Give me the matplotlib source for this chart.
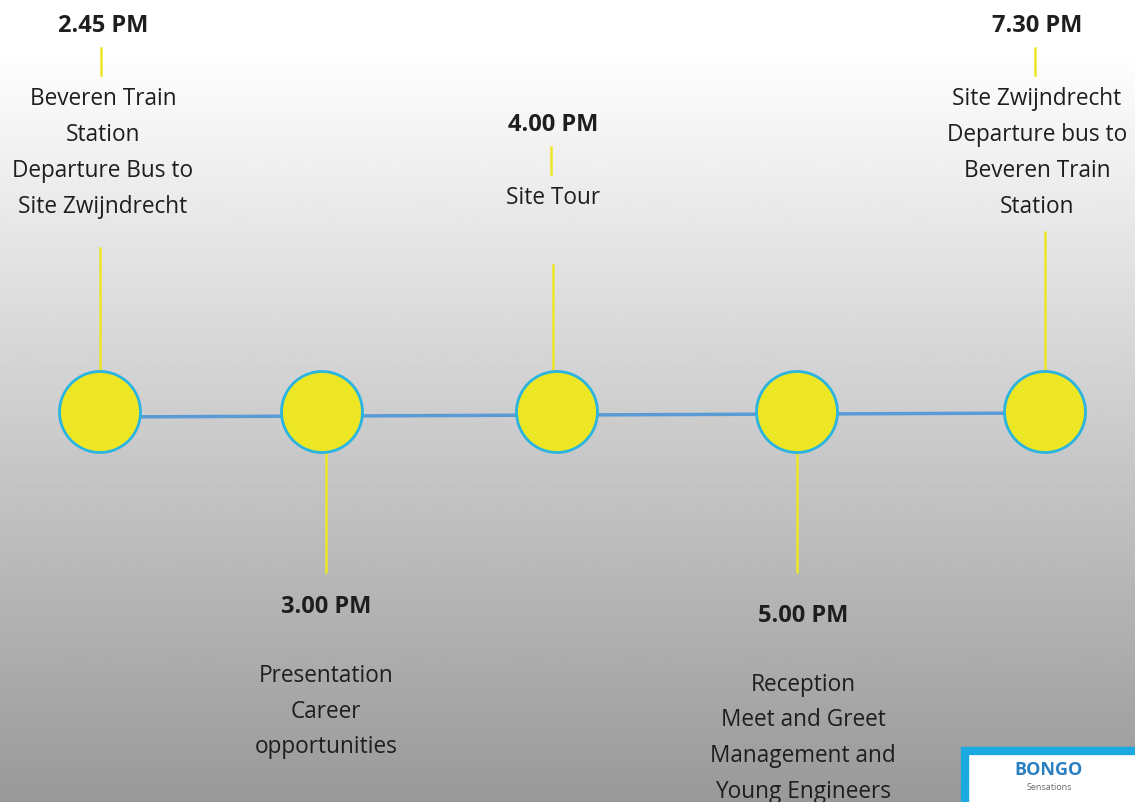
import numpy as np
import matplotlib.pyplot as plt
from matplotlib.patches import Circle, Rectangle

plt.rcParams['font.family'] = ['Open Sans', 'DejaVu Sans']

# timeline stops
times = ['2.45 PM', '3.00 PM', '4.00 PM', '5.00 PM', '7.30 PM']
descs = [
    ['Beveren Train', 'Station', 'Departure Bus to', 'Site Zwijndrecht'],
    ['Presentation', 'Career', 'opportunities'],
    ['Site Tour'],
    ['Reception', 'Meet and Greet', 'Management and', 'Young Engineers'],
    ['Site Zwijndrecht', 'Departure bus to', 'Beveren Train', 'Station'],
]
side = ['up', 'down', 'up', 'down', 'up']
xs = [100, 322, 557, 797, 1045]

W, H = 1135, 802
fig = plt.figure(figsize=(W / 100, H / 100), dpi=100)
ax = fig.add_axes([0, 0, 1, 1])
ax.set_xlim(0, W)
ax.set_ylim(H, 0)
ax.axis('off')

# background gradient: white on top, grey below
g = np.linspace(0, 1, 400)
shade = np.clip((g - 0.06) / 0.94, 0, 1)
col = 1.0 - shade * 0.40
img = np.tile(col[:, None], (1, 10))
ax.imshow(img, cmap='gray', vmin=0, vmax=1, extent=[0, W, H, 0], aspect='auto', zorder=0)

yel = '#EDE625'
txtc = '#1e1e1e'
cy = 412
fs_t = 17
fs_d = 16.3

# connecting line
ax.plot([xs[0], xs[-1]], [417, 413], color='#5B9BD5', lw=2.5, zorder=2)

tx_off = {0: 3, 1: 4, 2: -4, 3: 6, 4: -8}
for i, x in enumerate(xs):
    ax.add_patch(Circle((x, cy), 40.5, facecolor=yel, edgecolor='#2AB4E0', lw=2, zorder=3))
    tx = x + tx_off[i]
    if side[i] == 'up':
        if i == 2:
            ax.plot([x - 4, x - 4], [265, 372], color=yel, lw=1.8, zorder=1)
            ty = 125
        else:
            ax.plot([x, x], [248 if i == 0 else 232, 372], color=yel, lw=1.8, zorder=1)
            ty = 26
        ax.text(tx, ty, times[i], ha='center', va='center', fontsize=fs_t, fontweight='bold', color=txtc)
        ax.plot([tx - 2, tx - 2], [ty + 22, ty + 49], color=yel, lw=1.8, zorder=1)
        y0 = ty + 73
        for k, line in enumerate(descs[i]):
            ax.text(tx, y0 + k * 36, line, ha='center', va='center', fontsize=fs_d, color=txtc)
    else:
        ax.plot([x + 4, x + 4] if i == 1 else [x, x], [452, 572], color=yel, lw=1.8, zorder=1)
        ty = 607 if i == 1 else 616
        ax.text(tx, ty, times[i], ha='center', va='center', fontsize=fs_t, fontweight='bold', color=txtc)
        y0 = ty + 69
        for k, line in enumerate(descs[i]):
            ax.text(tx, y0 + k * 35.5, line, ha='center', va='center', fontsize=fs_d, color=txtc)

# logo box in the corner
ax.add_patch(Rectangle((965, 751), 200, 80, facecolor='white', edgecolor='#1BA9E1', lw=6, zorder=4))
ax.text(1049, 770, 'BONGO', ha='center', va='center', fontsize=13, fontweight='bold', color='#2A7FC0', zorder=5)
ax.text(1049, 788, 'Sensations', ha='center', va='center', fontsize=6.5, color='#666666', zorder=5)

fig.savefig('out.png', dpi=100)
